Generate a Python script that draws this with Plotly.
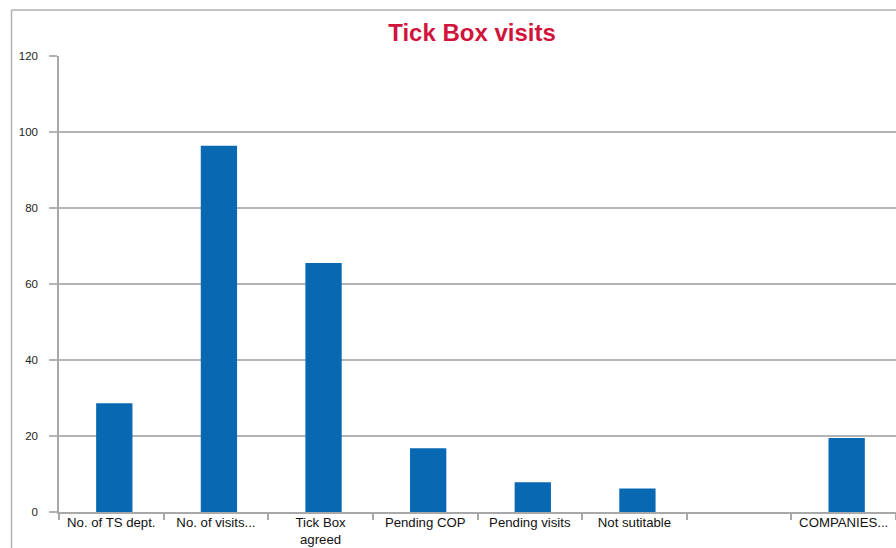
import plotly.graph_objects as go

categories = ["No. of TS dept.", "No. of visits...", "Tick Box<br>agreed", "Pending COP",
              "Pending visits", "Not sutitable", " ", "COMPANIES..."]
values = [28.6, 96.4, 65.5, 16.8, 7.8, 6.2, 0, 19.5]
title_text = "Tick Box visits"

W, H = 896, 548
ML, MT, MB = 59, 56, 36
plot_w = W - ML
plot_h = H - MT - MB

fig = go.Figure()
fig.add_trace(go.Bar(
    x=categories, y=values,
    marker=dict(color="#0868b2", line=dict(width=0)),
    width=0.347, offset=-0.145,
    hoverinfo="x+y",
))

def px_to_paper_x(px):
    return (px - ML) / plot_w

def px_to_paper_y(py):
    return (H - MB - py) / plot_h

fig.update_layout(
    width=W, height=H,
    margin=dict(l=ML, r=0, t=MT, b=MB, pad=0, autoexpand=False),
    paper_bgcolor="white", plot_bgcolor="white",
    showlegend=False,
    font=dict(family="Liberation Sans, Arial, sans-serif", color="#1a1a1a"),
    title=dict(
        text=title_text,
        font=dict(family="Liberation Sans, Arial, sans-serif", size=24, color="#d0143c", weight="bold"),
        x=px_to_paper_x(472), xref="paper", xanchor="center",
        y=1 - 33 / H, yref="container", yanchor="middle",
    ),
    xaxis=dict(
        type="category",
        range=[-0.5, 7.5],
        automargin=False,
        showgrid=False,
        showline=True, linecolor="#a8a8a8", linewidth=1.5,
        ticks="outside", tickson="boundaries", ticklen=6, tickcolor="#a8a8a8", tickwidth=1.5,
        ticklabelstandoff=-3,
        tickfont=dict(size=13.2, color="#111111"),
        tickangle=0,
        fixedrange=True,
    ),
    yaxis=dict(
        range=[0, 120], dtick=20, tick0=0,
        automargin=False,
        showgrid=True, gridcolor="#b4b4b4", gridwidth=1.5,
        zeroline=False,
        showline=True, linecolor="#a8a8a8", linewidth=1.5,
        ticks="outside", ticklen=8, tickcolor="#b4b4b4", tickwidth=1.5,
        ticklabelstandoff=9,
        tickfont=dict(size=11.5, color="#222222"),
        fixedrange=True,
    ),
    shapes=[
        dict(type="line", xref="paper", yref="paper",
             x0=px_to_paper_x(11.5), x1=px_to_paper_x(11.5),
             y0=px_to_paper_y(560), y1=px_to_paper_y(10),
             line=dict(color="#b0b0b0", width=1.5)),
        dict(type="line", xref="paper", yref="paper",
             x0=px_to_paper_x(11.5), x1=px_to_paper_x(910),
             y0=px_to_paper_y(10), y1=px_to_paper_y(10),
             line=dict(color="#b0b0b0", width=1.5)),
    ],
)

fig.write_html(
    "out.html",
    config={"displayModeBar": False},
    post_script="document.body.style.margin='0';document.body.style.overflow='hidden';",
)
